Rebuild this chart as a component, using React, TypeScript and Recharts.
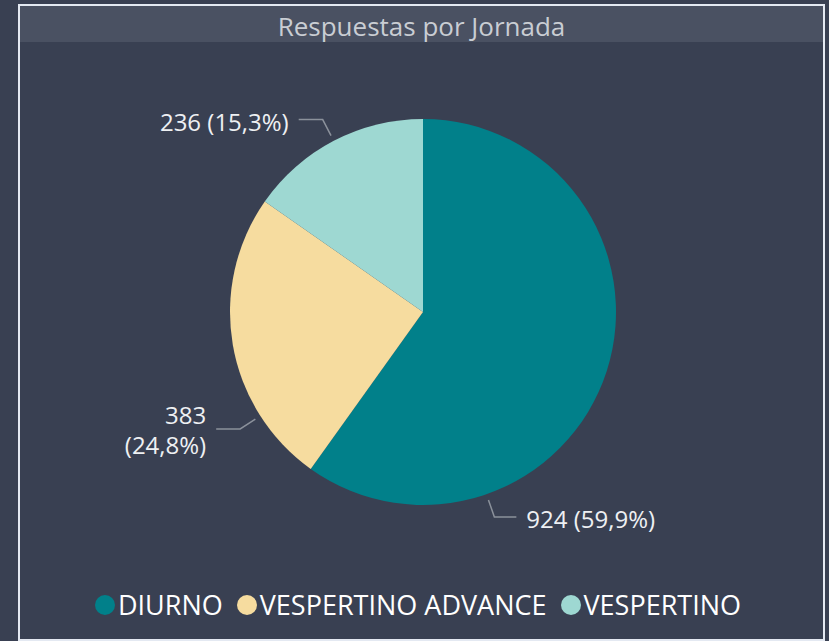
import React from 'react';
import { PieChart, Pie, Cell } from 'recharts';

const categories = ['DIURNO', 'VESPERTINO ADVANCE', 'VESPERTINO'];
const values = [924, 383, 236];
const colors = ['#01808A', '#F6DC9F', '#9ED8D2'];
const title = 'Respuestas por Jornada';

const data = categories.map((name, i) => ({ name, value: values[i] }));
const total = values.reduce((a, b) => a + b, 0);

// Power BI nudges some labels away from the slice mid-angle
const labelAngleOverride: Record<string, number> = {
  DIURNO: -70.8,
  'VESPERTINO ADVANCE': -147.4,
};

const FONT = '"Segoe UI", "Open Sans", "Noto Sans", sans-serif';
const RAD = Math.PI / 180;

const renderLabel = (props: any) => {
  const { cx, cy, outerRadius, midAngle, name, value } = props;
  const ang = labelAngleOverride[name] ?? midAngle;
  const cos = Math.cos(-ang * RAD);
  const sin = Math.sin(-ang * RAD);
  const sx = cx + (outerRadius + 6) * cos;
  const sy = cy + (outerRadius + 6) * sin;
  const mx = cx + (outerRadius + 24) * cos;
  const my = cy + (outerRadius + 24) * sin;
  const right = cos >= 0;
  const ex = mx + (right ? 22 : -24);
  const tx = ex + (right ? 10 : -10);
  const pct = ((value / total) * 100).toFixed(1).replace('.', ',');
  const twoLine = name === 'VESPERTINO ADVANCE';
  return (
    <g>
      <polyline
        points={`${sx},${sy} ${mx},${my} ${ex},${my}`}
        fill="none"
        stroke="#8B919B"
        strokeWidth={1.5}
      />
      {twoLine ? (
        <text
          x={tx}
          y={my}
          fill="#EEF0F3"
          fontSize={24}
          fontFamily={FONT}
          textAnchor={right ? 'start' : 'end'}
        >
          <tspan x={tx} dy={-5}>{`${value}`}</tspan>
          <tspan x={tx} dy={30}>{`(${pct}%)`}</tspan>
        </text>
      ) : (
        <text
          x={tx}
          y={my}
          dy={11}
          fill="#EEF0F3"
          fontSize={24}
          fontFamily={FONT}
          textAnchor={right ? 'start' : 'end'}
        >
          {`${value} (${pct}%)`}
        </text>
      )}
    </g>
  );
};

export default function App() {
  return (
    <div
      style={{
        position: 'absolute',
        left: 0,
        top: 0,
        width: 829,
        height: 641,
        background: '#394052',
        overflow: 'hidden',
        fontFamily: FONT,
      }}
    >
      <div
        style={{
          position: 'absolute',
          left: 18,
          top: 4,
          width: 803,
          height: 633,
          border: '2px solid #E4E9F2',
        }}
      />
      <div
        style={{
          position: 'absolute',
          left: 20,
          top: 6,
          width: 803,
          height: 36,
          background: '#4A5162',
        }}
      />
      <div
        style={{
          position: 'absolute',
          left: 20,
          top: 6,
          width: 803,
          color: '#C9CDD3',
          fontSize: 26,
          lineHeight: '40px',
          textAlign: 'center',
        }}
      >
        {title}
      </div>
      <div style={{ position: 'absolute', left: 0, top: 0 }}>
        <PieChart width={829} height={641} margin={{ top: 0, right: 0, bottom: 0, left: 0 }}>
          <Pie
            data={data}
            dataKey="value"
            nameKey="name"
            cx={423}
            cy={312}
            outerRadius={193}
            startAngle={90}
            endAngle={-270}
            stroke="none"
            label={renderLabel}
            labelLine={false}
            isAnimationActive={false}
          >
            {data.map((d, i) => (
              <Cell key={d.name} fill={colors[i]} />
            ))}
          </Pie>
        </PieChart>
      </div>
      <div
        style={{
          position: 'absolute',
          left: 0,
          top: 585,
          width: 836,
          display: 'flex',
          justifyContent: 'center',
          alignItems: 'center',
          gap: 14,
          color: '#FFFFFF',
          fontSize: 27,
          lineHeight: '40px',
        }}
      >
        {categories.map((c, i) => (
          <div key={c} style={{ display: 'flex', alignItems: 'center' }}>
            <span
              style={{
                display: 'inline-block',
                width: 20,
                height: 20,
                borderRadius: '50%',
                background: colors[i],
                marginRight: 3,
              }}
            />
            <span>{c}</span>
          </div>
        ))}
      </div>
    </div>
  );
}
